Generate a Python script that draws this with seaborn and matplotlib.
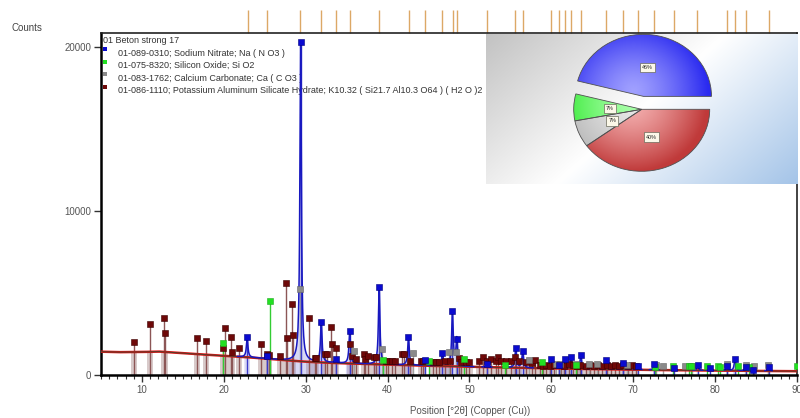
import numpy as np
import pandas as pd
import matplotlib
matplotlib.use('Agg')
import matplotlib.pyplot as plt
import seaborn as sns
from matplotlib.transforms import blended_transform_factory
from matplotlib.ticker import MultipleLocator, FixedLocator
from matplotlib.lines import Line2D
from matplotlib.colors import to_rgb

# ---------------- data ----------------
bg_pos = [5, 7, 10, 12, 14, 16, 18, 20, 22, 24, 26, 28, 30, 32, 34, 36, 38, 40,
          45, 50, 55, 60, 65, 70, 75, 80, 85, 90]
bg_counts = [1420, 1390, 1400, 1430, 1360, 1300, 1230, 1170, 1110, 1040, 960, 880,
             810, 760, 720, 690, 660, 630, 560, 500, 450, 400, 360, 320, 290, 270, 250, 230]

nitrate_pos = [22.85, 25.24, 29.38, 31.90, 33.65, 35.37, 38.97, 42.55, 44.56, 46.70,
               47.92, 48.45, 52.17, 55.65, 56.50, 59.90, 60.94, 61.68, 62.42, 63.60,
               66.70, 68.78, 70.58, 72.58, 74.99, 77.88, 79.40, 81.48, 82.42, 83.72,
               84.60, 86.52]
nitrate_counts = [2300, 1150, 20260, 3250, 1000, 2650, 5380, 2340, 900, 1340,
                  3900, 2200, 700, 1620, 1460, 970, 600, 970, 1120, 1220,
                  890, 750, 570, 700, 450, 610, 430, 560, 960, 500,
                  330, 500]

quartz_pos = [19.90, 25.70, 39.50, 45.00, 49.30, 54.30, 58.90, 63.00, 72.65, 74.80,
              76.80, 77.10, 78.95, 80.40, 80.60, 82.85, 84.10, 90.00]
quartz_counts = [1930, 4530, 900, 850, 980, 610, 820, 610, 500, 570,
                 520, 520, 520, 520, 500, 520, 470, 520]

calcite_pos = [29.25, 35.90, 39.35, 43.05, 47.45, 48.35, 57.30, 60.60, 61.10, 63.00,
               64.60, 65.60, 69.20, 72.80, 73.60, 76.30, 77.20, 81.40, 83.75, 84.80, 86.50]
calcite_counts = [5260, 1460, 1560, 1320, 1420, 1420, 910, 700, 700, 650,
                  650, 650, 600, 600, 560, 560, 560, 670, 610, 560, 610]

kas_pos = [9.0, 11.0, 12.7, 12.8, 16.7, 17.85, 19.85, 20.1, 20.9, 21.05, 21.9, 24.5,
           25.3, 25.5, 26.9, 27.6, 27.7, 28.3, 28.4, 30.4, 31.1, 31.3, 32.35, 32.6,
           33.05, 33.2, 33.7, 35.4, 35.6, 36.1, 37.1, 37.3, 37.6, 38.3, 38.6, 39.8,
           40.1, 40.5, 40.85, 41.7, 42.0, 42.7, 44.1, 44.3, 45.6, 45.9, 46.3, 47.0,
           47.6, 48.7, 49.0, 49.6, 50.0, 51.2, 51.6, 52.2, 52.6, 53.2, 53.45, 53.8,
           54.5, 55.1, 55.6, 56.0, 56.9, 57.6, 58.05, 58.6, 59.0, 59.4, 59.8, 60.3,
           61.2, 61.6, 62.1, 62.6, 63.1, 63.5, 64.2, 64.7, 65.2, 65.7, 66.2, 66.8,
           67.3, 67.8, 68.3, 68.8, 69.3, 69.8, 70.3]
kas_counts = [2030, 3110, 3500, 2540, 2240, 2090, 1620, 2840, 2300, 1420, 1620, 1890,
              1280, 1200, 1180, 5630, 2240, 4330, 2440, 3460, 1020, 1020, 1280, 1280,
              2900, 1890, 1620, 1890, 1170, 990, 1280, 990, 1160, 1100, 1100, 850,
              850, 850, 850, 1300, 1300, 850, 850, 850, 820, 820, 820, 850,
              880, 1020, 800, 800, 800, 850, 1080, 850, 1000, 850, 1080, 850,
              850, 850, 1080, 850, 800, 750, 910, 600, 550, 600, 550, 600,
              600, 550, 650, 600, 550, 600, 550, 600, 550, 600, 550, 600,
              550, 600, 550, 600, 550, 600, 550]

ref_tick_pos = [22.90, 25.24, 29.34, 31.87, 33.65, 35.37, 39.01, 42.56, 44.56, 46.66,
                47.96, 48.44, 52.17, 55.62, 56.51, 59.91, 60.94, 61.65, 62.44, 63.61,
                66.63, 68.70, 70.56, 72.56, 74.99, 77.79, 81.48, 82.41, 83.72, 86.52]

legend_title = "01 Beton strong 17"
legend_labels = ["01-089-0310; Sodium Nitrate; Na ( N O3 )",
                 "01-075-8320; Silicon Oxide; Si O2",
                 "01-083-1762; Calcium Carbonate; Ca ( C O3 )",
                 "01-086-1110; Potassium Aluminum Silicate Hydrate; K10.32 ( Si21.7 Al10.3 O64 ) ( H2 O )2"]
pie_values = [46, 7, 7, 40]

# ---------------- style ----------------
sns.set_theme(style='white')
plt.rcParams['font.family'] = ['Liberation Sans', 'DejaVu Sans']

C_BLUE, C_BLUE_ST = '#0a0ad0', '#3a3ac8'
C_GREEN, C_GREEN_ST = '#22e022', '#33cc33'
C_GRAY, C_GRAY_ST = '#8a8a8a', '#a0a0a0'
C_KAS, C_KAS_ST = '#6e0808', '#8c5656'

W, H = 800, 418
fig = plt.figure(figsize=(8, 4.18), dpi=100)
ax = fig.add_axes([101 / W, (H - 375) / H, 696 / W, 342 / H])
ax.set_xlim(5, 90)
ax.set_ylim(0, 20830)

# profile
grid = np.linspace(5, 90, 6000)
bg = np.interp(grid, bg_pos, bg_counts)
peak_part = np.zeros_like(grid)
hw = 0.11
for p, h in zip(nitrate_pos, nitrate_counts):
    amp = h - np.interp(p, bg_pos, bg_counts)
    if amp > 0:
        peak_part += amp / (1 + ((grid - p) / hw) ** 2)
profile = bg + peak_part

# light bars under the reference sticks
ax.bar(kas_pos, np.interp(kas_pos, bg_pos, bg_counts), width=0.75,
       color='#d8caca', zorder=1, linewidth=0)

ax.fill_between(grid, 0, profile, where=peak_part > 120, color='#9090e0',
                alpha=0.35, zorder=1.5, linewidth=0)

# sticks
for pos, cnt, col in [(kas_pos, kas_counts, C_KAS_ST),
                      (calcite_pos, calcite_counts, C_GRAY_ST),
                      (quartz_pos, quartz_counts, C_GREEN_ST),
                      (nitrate_pos, nitrate_counts, C_BLUE_ST)]:
    ax.vlines(pos, 0, cnt, color=col, lw=1.0, zorder=2)

# background and observed lines
df_bg = pd.DataFrame({'x': grid, 'y': bg})
sns.lineplot(data=df_bg, x='x', y='y', ax=ax, color='#e01515', lw=1.8,
             estimator=None, zorder=3)
sns.lineplot(data=df_bg, x='x', y='y', ax=ax, color='#5a3a2a', lw=0.8,
             estimator=None, zorder=3.2)
blue_prof = np.where(peak_part > 15, profile, np.nan)
ax.plot(grid, blue_prof, color='#1818c0', lw=1.1, zorder=3.5)

# markers
for pos, cnt, col, ec in [(kas_pos, kas_counts, C_KAS, '#3a0000'),
                          (calcite_pos, calcite_counts, C_GRAY, '#666666'),
                          (quartz_pos, quartz_counts, C_GREEN, '#22aa22'),
                          (nitrate_pos, nitrate_counts, C_BLUE, '#000080')]:
    sns.scatterplot(x=pos, y=cnt, ax=ax, marker='s', s=21, color=col,
                    edgecolor=ec, linewidth=0.4, zorder=4)

# top reference ticks
trans = blended_transform_factory(ax.transData, ax.transAxes)
ax.vlines(ref_tick_pos, 1.0, 1.066, transform=trans, color='#dca866', lw=1.0,
          clip_on=False, zorder=1)

# axes styling
for s in ['left', 'bottom']:
    ax.spines[s].set_linewidth(1.8)
    ax.spines[s].set_color('black')
for s in ['top', 'right']:
    ax.spines[s].set_linewidth(1.2)
    ax.spines[s].set_color('#222222')
ax.set_xlabel('')
ax.set_ylabel('')
ax.xaxis.set_major_locator(FixedLocator([10, 20, 30, 40, 50, 60, 70, 80, 90]))
ax.xaxis.set_minor_locator(MultipleLocator(1))
ax.yaxis.set_major_locator(FixedLocator([0, 10000, 20000]))
ax.set_yticklabels(['0', '10000', '20000'])
ax.tick_params(axis='both', which='major', bottom=True, left=True, direction='out',
               length=5, width=1.0, color='#333333', labelsize=7, labelcolor='#555555', pad=2)
ax.tick_params(axis='x', which='minor', bottom=True, direction='out', length=3,
               width=0.8, color='#333333')

# legend-like annotations (under the lines)
def fx(px):
    return px / W
def fy(py):
    return 1 - py / H
ax.text(fx(103), fy(40.5), legend_title, transform=fig.transFigure, fontsize=6.5,
        color='#333333', va='center', ha='left', zorder=0.5)
leg_cols = [C_BLUE, C_GREEN, C_GRAY, C_KAS]
sq_y = [49, 61.5, 74, 86.5]
tx_y = [53.3, 65.8, 78.3, 90.8]
for col, sy, ty, lab in zip(leg_cols, sq_y, tx_y, legend_labels):
    ax.add_line(Line2D([fx(104.5)], [fy(sy)], marker='s', markersize=3.4, color=col,
                       markeredgewidth=0, transform=fig.transFigure, zorder=0.6,
                       clip_on=False))
    ax.text(fx(117.5), fy(ty), lab, transform=fig.transFigure, fontsize=6.45,
            color='#333333', va='center', ha='left', zorder=0.5)

fig.text(fx(12), fy(28), 'Counts', fontsize=7, color='#444444', va='center', ha='left')
fig.text(fx(470), fy(410.5), 'Position [°2θ] (Copper (Cu))', fontsize=7,
         color='#555555', va='center', ha='center')

# ---------------- inset: gradient box + pie ----------------
bx0, by0, bx1, by1 = 486, 33.5, 797, 184
gax = fig.add_axes([fx(bx0), fy(by1), (bx1 - bx0) / W, (by1 - by0) / H])
u = np.linspace(0, 1, 300)[None, :]
v = np.linspace(0, 1, 150)[:, None]
t = np.clip((u + 0.55 * v) / 1.55, 0, 1)
c_gray = np.array(to_rgb('#c2c2c2'))
c_white = np.array(to_rgb('#ffffff'))
c_blue = np.array(to_rgb('#a4c4e8'))
img = np.where((t < 0.5)[..., None],
               c_gray + (c_white - c_gray) * (t / 0.5)[..., None],
               c_white + (c_blue - c_white) * ((t - 0.5) / 0.5)[..., None])
gax.imshow(img, aspect='auto', extent=[0, 1, 1, 0])
gax.set_xlim(0, 1)
gax.set_ylim(1, 0)
gax.axis('off')

cx, cy = 641.7, H - 109.3
rx, ry = 68, 62
pw, ph = 2.5 * rx, 2.5 * ry
pax = fig.add_axes([fx(cx - pw / 2), (cy - ph / 2) / H, pw / W, ph / H])
pie_cols = ['#2a2af0', '#30e830', '#b4b4b4', '#c03a3a']
pie_inner = ['#a0a0ff', '#a8ffa8', '#e8e8e8', '#f4b0b0']
wedges, texts, autotexts = pax.pie(pie_values, colors=pie_cols, startangle=0,
                                   counterclock=True, explode=[0.21, 0, 0, 0],
                                   autopct='%d%%', pctdistance=0.47,
                                   wedgeprops=dict(linewidth=0.6, edgecolor='#505050'))
pax.set_aspect('auto')
pax.set_xlim(-1.25, 1.25)
pax.set_ylim(-1.25, 1.25)
gx = np.linspace(-1.25, 1.25, 300)
GX, GY = np.meshgrid(gx, gx)
for w, cin, cout in zip(wedges, pie_inner, pie_cols):
    wcx, wcy = w.center
    r = np.sqrt((GX - wcx + 0.15) ** 2 + (GY - wcy - 0.1) ** 2)
    tt = np.clip(r / 1.1, 0, 1)[..., None] ** 1.3
    ci, co = np.array(to_rgb(cin)), np.array(to_rgb(cout))
    im_arr = ci + (co - ci) * tt
    im = pax.imshow(im_arr, extent=[-1.25, 1.25, -1.25, 1.25], origin='lower',
                    aspect='auto', zorder=1)
    im.set_clip_path(w)
    w.set_facecolor('none')
    w.set_zorder(2)
for at in autotexts:
    at.set_fontsize(3.9)
    at.set_color('#222222')
    at.set_zorder(3)
    at.set_bbox(dict(boxstyle='square,pad=0.4', fc='#fbf8e8', ec='#6a6a5a', lw=0.5))
pax.set_xlim(-1.25, 1.25)
pax.set_ylim(-1.25, 1.25)
pax.axis('off')

fig.savefig('out.png', dpi=100)
